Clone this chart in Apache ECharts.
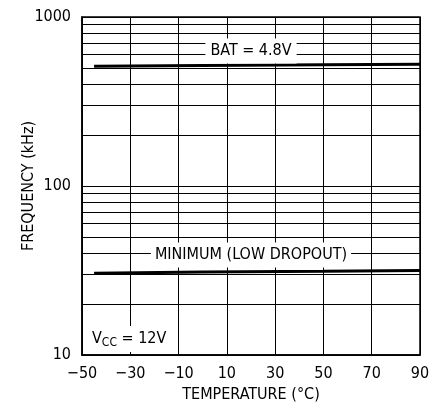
<!DOCTYPE html>
<html>
<head>
<meta charset="utf-8">
<script src="https://cdn.jsdelivr.net/npm/echarts@6/dist/echarts.min.js"></script>
<style>html,body{margin:0;padding:0;background:#fff}#c{width:443px;height:408px}</style>
</head>
<body>
<div id="c"></div>
<script>
// ---- data ----
var temperature = [-45, 0, 50, 90];
var batFreq = [512, 517, 521, 525];          // BAT = 4.8V (kHz)
var minFreq = [30.5, 31.0, 31.3, 31.6];      // MINIMUM (LOW DROPOUT) (kHz)
var xTicks = [-50, -30, -10, 10, 30, 50, 70, 90];
var yTicks = [10, 100, 1000];
var minorGrid = [20, 30, 40, 50, 60, 70, 80, 90, 200, 300, 400, 500, 600, 700, 800, 900];
var labelBat = 'BAT = 4.8V';
var labelMin = 'MINIMUM (LOW DROPOUT)';

var FONT = "'Liberation Sans Narrow', 'DejaVu Sans Condensed', sans-serif";
function pairs(xs, ys) { return xs.map(function (x, i) { return [x, ys[i]]; }); }

var chart = echarts.init(document.getElementById('c'), null, { renderer: 'canvas' });
chart.setOption({
  animation: false,
  backgroundColor: '#fff',
  grid: { left: 82, right: 23, top: 17, bottom: 53, containLabel: false, outerBoundsMode: 'none',
    show: true, borderColor: '#000', borderWidth: 1.5, backgroundColor: 'transparent' },
  xAxis: {
    type: 'value', min: xTicks[0], max: xTicks[xTicks.length - 1], interval: 20,
    name: 'TEMPERATURE (°C)', nameLocation: 'middle', nameGap: 32, nameMoveOverlap: false,
    nameTextStyle: { fontFamily: FONT, fontSize: 16, color: '#000' },
    axisLine: { show: true, onZero: false, lineStyle: { color: '#000', width: 1.5 } },
    axisTick: { show: false },
    axisLabel: { margin: 11, fontFamily: FONT, fontSize: 16, color: '#000',
      formatter: function (v) { return String(v).replace('-', '\u2212'); } },
    splitLine: { show: true, lineStyle: { color: '#000', width: 1 } }
  },
  yAxis: {
    type: 'log', logBase: 10, min: yTicks[0], max: yTicks[yTicks.length - 1],
    name: 'FREQUENCY (kHz)', nameLocation: 'middle', nameGap: 45, nameMoveOverlap: false,
    nameTextStyle: { fontFamily: FONT, fontSize: 16, color: '#000' },
    axisLine: { show: true, onZero: false, lineStyle: { color: '#000', width: 1.5 } },
    axisTick: { show: false },
    axisLabel: { margin: 11, fontFamily: FONT, fontSize: 16, color: '#000',
      formatter: function (v) { return String(Math.round(v)); } },
    splitLine: { show: true, lineStyle: { color: '#000', width: 1 } },
    minorTick: { show: false }, minorSplitLine: { show: false }
  },
  series: [
    {
      type: 'line', data: [], z: 1, silent: true,
      markLine: {
        silent: true, symbol: ['none', 'none'], animation: false,
        label: { show: false },
        lineStyle: { color: '#000', width: 1, type: 'solid' },
        emphasis: { disabled: true },
        data: minorGrid.map(function (v) { return { yAxis: v }; })
      }
    },
    {
      type: 'line', name: labelBat, data: pairs(temperature, batFreq), z: 3,
      symbol: 'none', lineStyle: { color: '#000', width: 3 }, silent: true
    },
    {
      type: 'line', name: labelMin, data: pairs(temperature, minFreq), z: 3,
      symbol: 'none', lineStyle: { color: '#000', width: 3 }, silent: true
    }
  ]
});

// annotations placed through the chart's own scales
function px(pt) {
  var p = chart.convertToPixel({ gridIndex: 0 }, pt);
  return [Math.round(p[0]), Math.round(p[1])];
}
var pBat = px([20, 630]);
var pMin = px([20, 39.3]);
var pVcc = px([-47.5, 12.5]);
chart.setOption({
  graphic: [
    { type: 'text', x: pBat[0], y: pBat[1], z: 100, silent: true,
      style: { text: labelBat, fill: '#000', font: '16px ' + FONT, align: 'center', verticalAlign: 'middle',
        backgroundColor: '#fff', padding: [4, 5], lineHeight: 17 } },
    { type: 'text', x: pMin[0], y: pMin[1], z: 100, silent: true,
      style: { text: labelMin, fill: '#000', font: '16px ' + FONT, align: 'center', verticalAlign: 'middle',
        backgroundColor: '#fff', padding: [4, 4], lineHeight: 17 } },
    { type: 'text', x: pVcc[0], y: pVcc[1], z: 100, silent: true,
      style: { text: '{v|V}{s|CC}{v| = 12V}', align: 'left', verticalAlign: 'middle',
        backgroundColor: '#fff', padding: [3, 4],
        rich: {
          v: { fill: '#000', font: '16px ' + FONT, lineHeight: 20, verticalAlign: 'middle' },
          s: { fill: '#000', font: '12px ' + FONT, lineHeight: 12, padding: [8, 0, 0, 0], verticalAlign: 'middle' }
        } } }
  ]
});
</script>
</body>
</html>
